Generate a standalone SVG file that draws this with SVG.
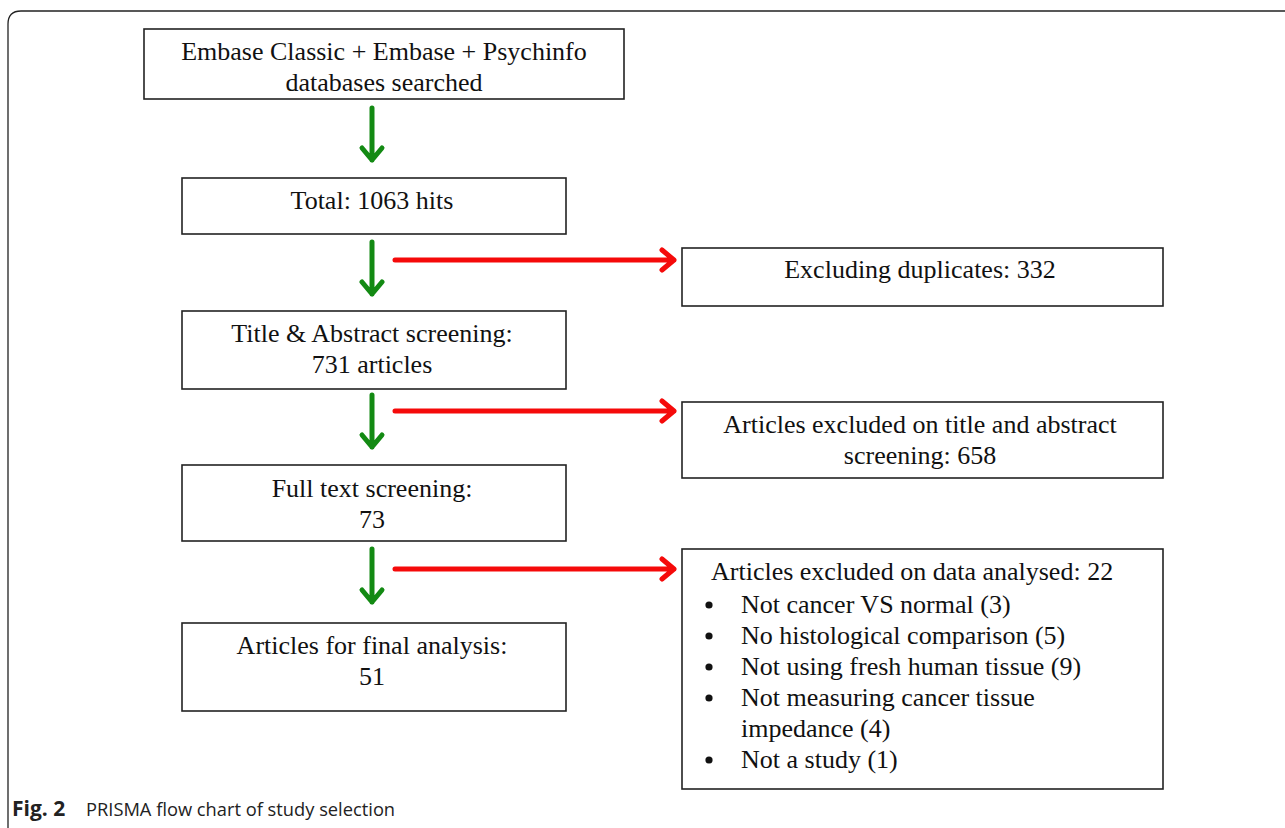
<svg xmlns="http://www.w3.org/2000/svg" width="1285" height="828" viewBox="0 0 1285 828">
<defs>
<style>
.box{fill:#fff;stroke:#222;stroke-width:1.6}
.t{font-family:"Liberation Serif","DejaVu Serif",serif;font-size:26px;fill:#111}
.c{text-anchor:middle}
.g{stroke:#138a13;stroke-width:5;fill:none;stroke-linecap:round;stroke-linejoin:round}
.r{stroke:#f50a0a;stroke-width:5;fill:none;stroke-linecap:round;stroke-linejoin:round}
.cap{font-family:"Open Sans","Liberation Sans",sans-serif;font-size:18.3px;fill:#222}
</style>
</defs>
<rect width="1285" height="828" fill="#fff"/>
<path d="M8 828 V24 Q8 11 21 11 H1285" fill="none" stroke="#222" stroke-width="1.3"/>
<g id="n1"><rect class="box" x="144" y="29" width="480" height="70"/>
<text class="t c" x="384" y="60">Embase Classic + Embase + Psychinfo</text>
<text class="t c" x="384" y="91">databases searched</text></g>
<g id="n2"><rect class="box" x="182" y="178" width="384" height="56"/>
<text class="t c" x="372" y="209">Total: 1063 hits</text></g>
<g id="n3"><rect class="box" x="682" y="248" width="481" height="58"/>
<text class="t c" x="920" y="278">Excluding duplicates: 332</text></g>
<g id="n4"><rect class="box" x="182" y="311" width="384" height="78"/>
<text class="t c" x="372" y="342">Title &amp; Abstract screening:</text>
<text class="t c" x="372" y="373">731 articles</text></g>
<g id="n5"><rect class="box" x="682" y="402" width="481" height="76"/>
<text class="t c" x="920" y="433">Articles excluded on title and abstract</text>
<text class="t c" x="920" y="464">screening: 658</text></g>
<g id="n6"><rect class="box" x="182" y="465" width="384" height="76"/>
<text class="t c" x="372" y="497">Full text screening:</text>
<text class="t c" x="372" y="528">73</text></g>
<g id="n7"><rect class="box" x="682" y="549" width="481" height="240"/>
<text class="t" x="711" y="580">Articles excluded on data analysed: 22</text>
<g fill="#111"><circle cx="709" cy="605" r="3.6"/><circle cx="709" cy="636" r="3.6"/><circle cx="709" cy="667" r="3.6"/><circle cx="709" cy="698" r="3.6"/><circle cx="709" cy="760" r="3.6"/></g>
<text class="t" x="741" y="613">Not cancer VS normal (3)</text>
<text class="t" x="741" y="644">No histological comparison (5)</text>
<text class="t" x="741" y="675">Not using fresh human tissue (9)</text>
<text class="t" x="741" y="706">Not measuring cancer tissue</text>
<text class="t" x="741" y="737">impedance (4)</text>
<text class="t" x="741" y="768">Not a study (1)</text></g>
<g id="n8"><rect class="box" x="182" y="623" width="384" height="88"/>
<text class="t c" x="372" y="654">Articles for final analysis:</text>
<text class="t c" x="372" y="685">51</text></g>
<g id="connectors">
<path class="g" d="M372 108 V160 M362 148 L372 160 L382 148"/>
<path class="g" d="M372 242 V294 M362 282 L372 294 L382 282"/>
<path class="g" d="M372 395 V447 M362 435 L372 447 L382 435"/>
<path class="g" d="M372 549 V602 M362 590 L372 602 L382 590"/>
<path class="r" d="M395 260 H674 M662 250 L674 260 L662 270"/>
<path class="r" d="M395 411 H674 M662 401 L674 411 L662 421"/>
<path class="r" d="M395 569 H674 M662 559 L674 569 L662 579"/>
</g>
<text class="cap" x="12" y="816"><tspan font-weight="bold" font-size="21px">Fig. 2</tspan><tspan x="86">PRISMA flow chart of study selection</tspan></text>
</svg>
